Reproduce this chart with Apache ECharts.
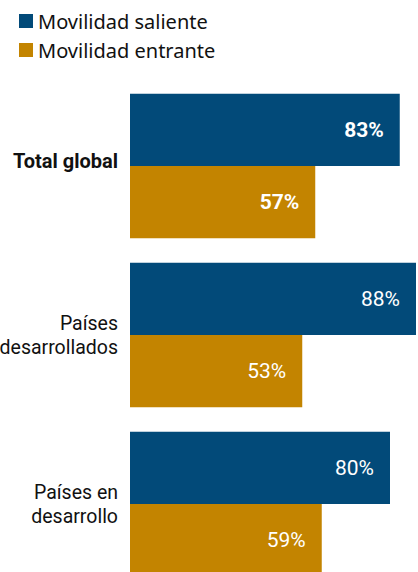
<!DOCTYPE html>
<html>
<head>
<meta charset="utf-8">
<script src="https://cdn.jsdelivr.net/npm/echarts@6/dist/echarts.min.js"></script>
<style>
  html, body { margin: 0; padding: 0; background: #fff; }
  #chart { width: 418px; height: 572px; }
</style>
</head>
<body>
<div id="chart"></div>
<script>
const categories = ["Total global", "Países\ndesarrollados", "Países en\ndesarrollo"];
const saliente = [83, 88, 80];
const entrante = [57, 53, 59];

const FONT = "Noto Sans";
const NARROW = "Roboto";
const BLUE = "#024a79";
const GOLD = "#c38400";

const chart = echarts.init(document.getElementById("chart"), null, { renderer: "svg" });

const valueLabel = (bold) => ({
  show: true,
  position: "insideRight",
  distance: 16,
  color: "#fff",
  fontFamily: NARROW,
  fontSize: 21,
  fontWeight: bold,
  formatter: "{c}%",
});

chart.setOption({
  animation: false,
  legend: {
    orient: "vertical",
    left: 14,
    top: 6,
    itemWidth: 14,
    itemHeight: 14,
    itemGap: 9,
    icon: "rect",
    textStyle: { fontFamily: FONT, fontSize: 20, color: "#111" },
    data: ["Movilidad saliente", "Movilidad entrante"],
  },
  grid: { left: 130, top: 81.5, width: 325, height: 507, outerBoundsMode: "none", containLabel: false },
  xAxis: { type: "value", min: 0, max: 100, show: false },
  yAxis: {
    type: "category",
    inverse: true,
    data: categories,
    axisLine: { show: false },
    axisTick: { show: false },
    axisLabel: {
      margin: 12,
      fontFamily: NARROW,
      fontSize: 19.5,
      lineHeight: 24,
      color: "#111",
      formatter: (v, i) => (i === 0 ? "{b|" + v + "}" : v),
      rich: { b: { fontWeight: "bold", fontFamily: NARROW, fontSize: 20, color: "#111", padding: [0, 0, 10, 0] } },
    },
  },
  series: [
    {
      name: "Movilidad saliente",
      type: "bar",
      data: saliente.map((v, i) => ({ value: v, label: valueLabel(i === 0 ? "bold" : "normal") })),
      itemStyle: { color: BLUE },
      barGap: "0%",
      barCategoryGap: "14.5%",
    },
    {
      name: "Movilidad entrante",
      type: "bar",
      data: entrante.map((v, i) => ({ value: v, label: valueLabel(i === 0 ? "bold" : "normal") })),
      itemStyle: { color: GOLD },
    },
  ],
});
</script>
</body>
</html>
